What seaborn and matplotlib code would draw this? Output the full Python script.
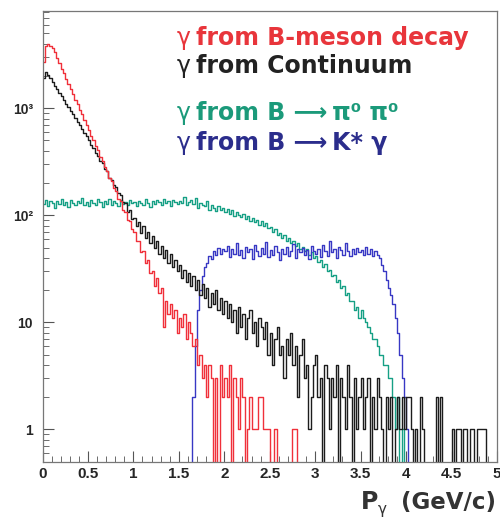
import numpy as np
import pandas as pd
import matplotlib
matplotlib.use("Agg")
import matplotlib.pyplot as plt
import seaborn as sns

# Photon momentum spectra, 0.025 GeV/c bins from 0 to 5 GeV/c (20 bins per row = 0.5 GeV/c)
p_range = (0.0, 5.0)
n_bins = 200

b_meson_decay = [
    2700, 3800, 3950, 3850, 3650, 3320, 2930, 2660, 2340, 2120, 1870, 1700, 1500, 1370, 1200, 1090, 960, 875, 770, 700,
    625, 550, 505, 440, 405, 350, 322, 280, 262, 225, 208, 180, 168, 142, 135, 112, 108, 90, 88, 74,
    70, 57, 58, 45, 46, 36, 38, 29, 30, 22, 26, 19, 21, 9, 16, 12, 15, 11, 13, 8,
    11, 9, 12, 7, 10, 8, 6, 7, 4, 5, 3, 4, 2, 4, 3, 0, 3, 0, 4, 2,
    3, 2, 4, 0, 3, 2, 1, 3, 2, 0, 1, 2, 1, 1, 1, 2, 2, 1, 1, 1,
    0, 0, 1, 0, 0, 0, 0, 0, 0, 0, 1, 1, 0, 0, 0, 0, 0, 0, 0, 0,
    0, 0, 0, 0, 0, 0, 0, 0, 0, 0, 0, 0, 0, 0, 0, 0, 0, 0, 0, 0,
    0, 0, 0, 0, 0, 0, 0, 0, 0, 0, 0, 0, 0, 0, 0, 0, 0, 0, 0, 0,
    0, 0, 0, 0, 0, 0, 0, 0, 0, 0, 0, 0, 0, 0, 0, 0, 0, 0, 0, 0,
    0, 0, 0, 0, 0, 0, 0, 0, 0, 0, 0, 0, 0, 0, 0, 0, 0, 0, 0, 0,
]

continuum = [
    1900, 2200, 2056, 1903, 1760, 1629, 1507, 1394, 1290, 1194, 1105, 1022, 946, 875, 809, 749, 693, 641, 593, 548,
    510, 455, 430, 380, 362, 320, 305, 268, 258, 225, 216, 190, 184, 160, 156, 132, 130, 108, 112, 92,
    95, 80, 86, 68, 80, 62, 70, 55, 64, 50, 58, 44, 52, 40, 47, 36, 44, 33, 38, 30,
    34, 26, 31, 24, 29, 22, 27, 20, 25, 18, 23, 17, 21, 14, 19, 15, 20, 13, 17, 12,
    16, 11, 15, 10, 13, 8, 14, 9, 12, 7, 11, 13, 8, 10, 6, 11, 9, 7, 10, 5,
    8, 4, 7, 9, 5, 6, 3, 7, 5, 8, 4, 6, 2, 5, 7, 3, 4, 1, 2, 4,
    5, 2, 3, 0, 4, 3, 1, 3, 2, 4, 0, 3, 2, 1, 4, 2, 0, 3, 1, 2,
    3, 1, 2, 3, 0, 2, 1, 3, 2, 1, 0, 2, 1, 2, 0, 1, 2, 1, 2, 1,
    2, 2, 1, 0, 1, 0, 2, 1, 0, 0, 0, 0, 0, 2, 0, 2, 0, 0, 0, 0,
    1, 0, 1, 1, 0, 1, 1, 0, 1, 1, 0, 1, 1, 1, 1, 0, 0, 0, 0, 0,
]

b_to_pi0pi0 = [
    128, 140, 122, 135, 131, 118, 136, 127, 142, 125, 133, 120, 138, 129, 124, 137, 131, 145, 126, 134,
    121, 139, 130, 126, 143, 132, 119, 136, 128, 141, 124, 135, 131, 122, 140, 127, 133, 125, 138, 129,
    134, 123, 137, 130, 126, 142, 131, 120, 136, 128, 139, 133, 125, 141, 129, 135, 122, 138, 132, 127,
    136, 129, 147, 124, 133, 140, 127, 145, 118, 131, 126, 121, 135, 112, 124, 118, 109, 121, 113, 117,
    108, 115, 104, 111, 98, 107, 101, 96, 103, 92, 99, 88, 95, 86, 91, 82, 88, 79, 84, 76,
    78, 70, 74, 66, 69, 62, 65, 58, 61, 55, 58, 52, 55, 49, 51, 46, 48, 43, 45, 40,
    42, 37, 38, 33, 35, 30, 31, 27, 28, 24, 25, 21, 22, 18, 19, 16, 16, 13, 14, 11,
    13, 11, 10, 9, 8, 7, 7, 6, 5, 5, 4, 4, 3, 3, 2, 1, 2, 0, 1, 0,
    0, 0, 0, 0, 0, 0, 0, 0, 0, 0, 0, 0, 0, 0, 0, 0, 0, 0, 0, 0,
    0, 0, 0, 0, 0, 0, 0, 0, 0, 0, 0, 0, 0, 0, 0, 0, 0, 0, 0, 0,
]

b_to_kstar_gamma = [
    0, 0, 0, 0, 0, 0, 0, 0, 0, 0, 0, 0, 0, 0, 0, 0, 0, 0, 0, 0,
    0, 0, 0, 0, 0, 0, 0, 0, 0, 0, 0, 0, 0, 0, 0, 0, 0, 0, 0, 0,
    0, 0, 0, 0, 0, 0, 0, 0, 0, 0, 0, 0, 0, 0, 0, 0, 0, 0, 0, 0,
    0, 0, 0, 0, 0, 0, 2, 6, 13, 20, 27, 33, 36, 42, 39, 46, 43, 50, 44, 48,
    46, 52, 41, 49, 44, 55, 43, 47, 40, 51, 45, 48, 39, 53, 46, 42, 50, 44, 56, 41,
    47, 43, 52, 45, 38, 49, 44, 51, 42, 46, 54, 40, 48, 45, 50, 43, 47, 39, 52, 46,
    44, 49, 41, 53, 46, 42, 58, 45, 48, 40, 51, 47, 43, 55, 46, 42, 49, 44, 50, 45,
    47, 43, 51, 44, 48, 42, 46, 43, 40, 34, 30, 25, 21, 18, 15, 11, 8, 5, 3, 2,
    1, 0, 0, 0, 0, 0, 0, 0, 0, 0, 0, 0, 0, 0, 0, 0, 0, 0, 0, 0,
    0, 0, 0, 0, 0, 0, 0, 0, 0, 0, 0, 0, 0, 0, 0, 0, 0, 0, 0, 0,
]

x_ticks = [0, 0.5, 1, 1.5, 2, 2.5, 3, 3.5, 4, 4.5, 5]
x_tick_labels = ["0", "0.5", "1", "1.5", "2", "2.5", "3", "3.5", "4", "4.5", "5"]
y_ticks = [1, 10, 100, 1000]
y_tick_labels = ["1", "10", "10²", "10³"]

series_colors = {
    "decay": "#f0303a",
    "continuum": "#1c1c1c",
    "pipi": "#16a085",
    "kgamma": "#3838c4",
}
text_colors = {
    "decay": "#e8353b",
    "continuum": "#222222",
    "pipi": "#1b9a7a",
    "kgamma": "#2b2d8c",
}

sns.set_style("ticks")
plt.rcParams["font.family"] = ["Liberation Sans", "DejaVu Sans"]
plt.rcParams["font.weight"] = "bold"

W, H = 500, 520
fig = plt.figure(figsize=(W / 100, H / 100), dpi=100)
ax = fig.add_axes([42.5 / W, 1 - 461.7 / H, (497 - 42.5) / W, (461.7 - 11) / H])

edges = np.linspace(p_range[0], p_range[1], n_bins + 1)
centers = 0.5 * (edges[:-1] + edges[1:])
for key, counts in [("pipi", b_to_pi0pi0), ("kgamma", b_to_kstar_gamma),
                    ("continuum", continuum), ("decay", b_meson_decay)]:
    df = pd.DataFrame({"p": centers, "n": np.asarray(counts, float)})
    sns.histplot(data=df, x="p", weights="n", bins=n_bins, binrange=p_range,
                 element="step", fill=False, color=series_colors[key],
                 linewidth=1.0, ax=ax)

ax.set_yscale("log", nonpositive="clip")
ax.set_xlim(0, 5)
ax.set_ylim(0.5, 8100)
ax.set_xlabel("")
ax.set_ylabel("")

ax.set_xticks(x_ticks, labels=x_tick_labels)
ax.set_xticks(np.arange(0, 5.01, 0.1), minor=True)
ax.set_yticks(y_ticks, labels=y_tick_labels)
ax.yaxis.set_minor_locator(matplotlib.ticker.LogLocator(base=10, subs=np.arange(2, 10)))
ax.yaxis.set_minor_formatter(matplotlib.ticker.NullFormatter())

ax.tick_params(axis="both", which="major", direction="in", length=8, width=0.8,
               color="#555555", top=False, right=False)
ax.tick_params(axis="both", which="minor", direction="in", length=4, width=0.6,
               color="#555555", top=False, right=False)
ax.tick_params(axis="x", which="major", labelsize=11, pad=4)
ax.tick_params(axis="y", which="major", labelsize=10, pad=7)
for sp in ax.spines.values():
    sp.set_color("#777777")
    sp.set_linewidth(0.9)


def ftext(px, py, s, **kw):
    fig.text(px / W, 1 - py / H, s, va="baseline", ha="left", **kw)


# Source labels
rows = [
    (45, "from B-meson decay", "decay"),
    (73, "from Continuum", "continuum"),
    (120, "from B ⟶\u2009π⁰ π⁰", "pipi"),
    (150, "from B ⟶\u2009K* γ", "kgamma"),
]
for base, label, key in rows:
    ftext(177, base, "γ", fontsize=17, fontweight="normal", color=text_colors[key],
          family=["DejaVu Sans"])
    ftext(196, base, label, fontsize=17, fontweight="bold", color=text_colors[key],
          family=["DejaVu Sans"])

# Axis title
ftext(361, 509, "P", fontsize=17, fontweight="bold", color="#333333",
      family=["DejaVu Sans"])
ftext(378, 514, "γ", fontsize=11, fontweight="normal", color="#333333",
      family=["DejaVu Sans"])
ftext(401, 509, "(GeV/c)", fontsize=16.5, fontweight="bold", color="#333333",
      family=["DejaVu Sans"])

fig.savefig("out.png", dpi=100, facecolor="white")
